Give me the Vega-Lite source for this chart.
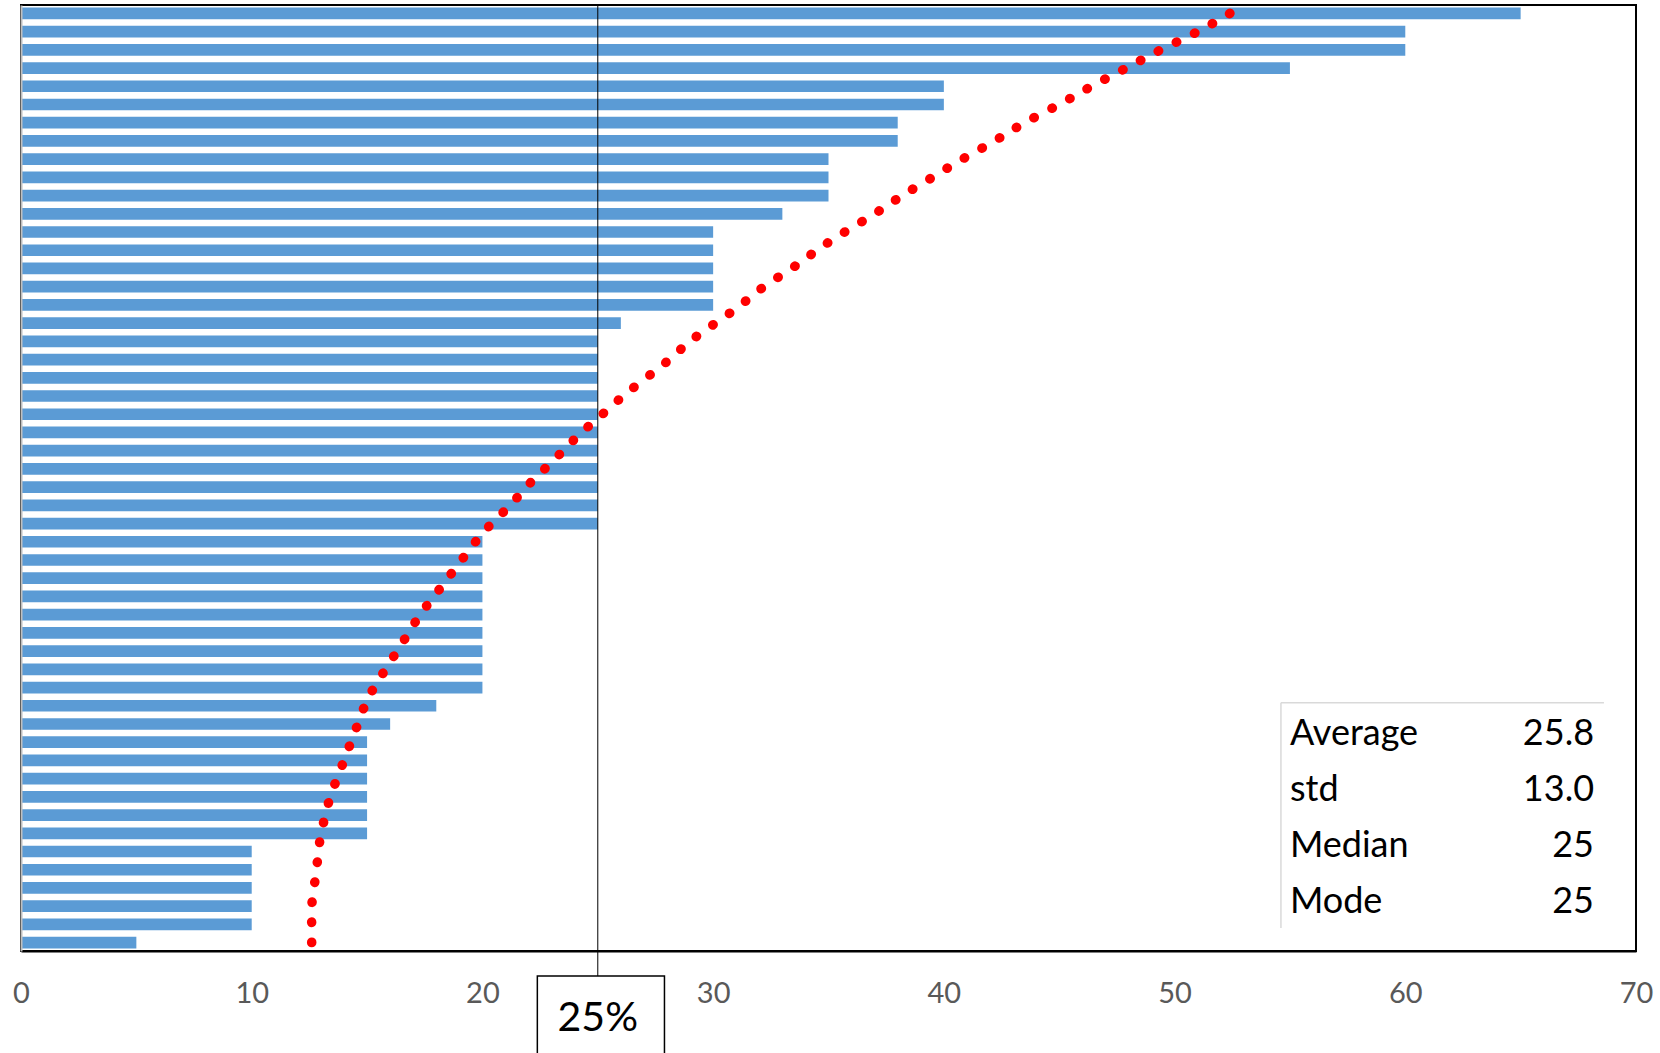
{
  "$schema": "https://vega.github.io/schema/vega-lite/v6.json",
  "width": 1615,
  "height": 946,
  "autosize": "none",
  "padding": {"left": 21, "top": 5, "right": 24, "bottom": 102},
  "background": "white",
  "config": {
    "view": {"stroke": "black", "strokeWidth": 2},
    "font": "Lato"
  },
  "datasets": {
    "bars": [
      {"id": 1, "value": 65, "trend": 52.4},
      {"id": 2, "value": 60, "trend": 51.0},
      {"id": 3, "value": 60, "trend": 49.4},
      {"id": 4, "value": 55, "trend": 47.9},
      {"id": 5, "value": 40, "trend": 46.4},
      {"id": 6, "value": 40, "trend": 45.0},
      {"id": 7, "value": 38, "trend": 43.5},
      {"id": 8, "value": 38, "trend": 42.2},
      {"id": 9, "value": 35, "trend": 40.8},
      {"id": 10, "value": 35, "trend": 39.5},
      {"id": 11, "value": 35, "trend": 38.2},
      {"id": 12, "value": 33, "trend": 37.0},
      {"id": 13, "value": 30, "trend": 35.7},
      {"id": 14, "value": 30, "trend": 34.5},
      {"id": 15, "value": 30, "trend": 33.4},
      {"id": 16, "value": 30, "trend": 32.2},
      {"id": 17, "value": 30, "trend": 31.2},
      {"id": 18, "value": 26, "trend": 30.1},
      {"id": 19, "value": 25, "trend": 29.0},
      {"id": 20, "value": 25, "trend": 28.1},
      {"id": 21, "value": 25, "trend": 27.1},
      {"id": 22, "value": 25, "trend": 26.1},
      {"id": 23, "value": 25, "trend": 25.2},
      {"id": 24, "value": 25, "trend": 24.3},
      {"id": 25, "value": 25, "trend": 23.5},
      {"id": 26, "value": 25, "trend": 22.7},
      {"id": 27, "value": 25, "trend": 21.9},
      {"id": 28, "value": 25, "trend": 21.2},
      {"id": 29, "value": 25, "trend": 20.4},
      {"id": 30, "value": 20, "trend": 19.7},
      {"id": 31, "value": 20, "trend": 19.1},
      {"id": 32, "value": 20, "trend": 18.5},
      {"id": 33, "value": 20, "trend": 17.9},
      {"id": 34, "value": 20, "trend": 17.3},
      {"id": 35, "value": 20, "trend": 16.8},
      {"id": 36, "value": 20, "trend": 16.3},
      {"id": 37, "value": 20, "trend": 15.8},
      {"id": 38, "value": 20, "trend": 15.3},
      {"id": 39, "value": 18, "trend": 14.9},
      {"id": 40, "value": 16, "trend": 14.6},
      {"id": 41, "value": 15, "trend": 14.3},
      {"id": 42, "value": 15, "trend": 14.0},
      {"id": 43, "value": 15, "trend": 13.7},
      {"id": 44, "value": 15, "trend": 13.4},
      {"id": 45, "value": 15, "trend": 13.2},
      {"id": 46, "value": 15, "trend": 13.0},
      {"id": 47, "value": 10, "trend": 12.9},
      {"id": 48, "value": 10, "trend": 12.8},
      {"id": 49, "value": 10, "trend": 12.7},
      {"id": 50, "value": 10, "trend": 12.6},
      {"id": 51, "value": 10, "trend": 12.6},
      {"id": 52, "value": 5, "trend": 12.6}
    ],
    "stats": [
      {"row": 1, "stat": "Average", "value": "25.8"},
      {"row": 2, "stat": "std", "value": "13.0"},
      {"row": 3, "stat": "Median", "value": "25"},
      {"row": 4, "stat": "Mode", "value": "25"}
    ]
  },
  "layer": [
    {
      "data": {"name": "bars"},
      "encoding": {
        "y": {
          "field": "id",
          "type": "ordinal",
          "sort": "ascending",
          "scale": {"paddingInner": 0.358, "paddingOuter": 0.139},
          "axis": {
            "labels": false,
            "ticks": false,
            "grid": false,
            "title": null,
            "domainColor": "#BFBFBF",
            "domainWidth": 2,
            "zindex": 1
          }
        }
      },
      "layer": [
        {
          "mark": {"type": "bar", "color": "#5B9BD5"},
          "encoding": {
            "x": {
              "field": "value",
              "type": "quantitative",
              "scale": {"domain": [0, 70], "nice": false, "zero": true},
              "axis": {
                "values": [0, 10, 20, 30, 40, 50, 60, 70],
                "ticks": false,
                "grid": false,
                "title": null,
                "domainColor": "black",
                "domainWidth": 2,
                "labelFont": "Lato",
                "labelFontSize": 29,
                "labelColor": "#595959",
                "labelPadding": 28,
                "labelFlush": false,
                "zindex": 1
              }
            }
          }
        },
        {
          "mark": {
            "type": "line",
            "color": "#FF0000",
            "strokeWidth": 9.5,
            "strokeDash": [0.5, 19.64],
            "strokeCap": "round",
            "interpolate": "natural"
          },
          "encoding": {
            "x": {"field": "trend", "type": "quantitative"}
          }
        }
      ]
    },
    {
      "layer": [
        {
          "data": {"values": [{}]},
          "mark": {"type": "rule", "color": "black", "strokeWidth": 1},
          "encoding": {
            "x": {"datum": 25, "type": "quantitative"},
            "y": {
              "datum": -12.19,
              "type": "quantitative",
              "scale": {"domain": [-12.19, 4.673], "reverse": true, "nice": false, "zero": false},
              "axis": null
            },
            "y2": {"datum": 5.118}
          }
        },
        {
          "data": {"values": [{}]},
          "mark": {"type": "rect", "fill": "white", "stroke": "black", "strokeWidth": 1.5},
          "encoding": {
            "x": {"datum": 22.38, "type": "quantitative"},
            "x2": {"datum": 27.89},
            "y": {"datum": 5.118, "type": "quantitative"},
            "y2": {"datum": 7.0}
          }
        },
        {
          "data": {"values": [{}]},
          "mark": {"type": "text", "text": "25%", "font": "Lato", "fontSize": 41, "color": "black", "align": "center", "baseline": "alphabetic"},
          "encoding": {
            "x": {"datum": 25, "type": "quantitative"},
            "y": {"datum": 6.093, "type": "quantitative"}
          }
        },
        {
          "data": {"values": [{}]},
          "mark": {"type": "rule", "color": "#D9D9D9", "strokeWidth": 1.5},
          "encoding": {
            "x": {"datum": 54.61, "type": "quantitative"},
            "x2": {"datum": 68.61},
            "y": {"datum": 0.247, "type": "quantitative"}
          }
        },
        {
          "data": {"values": [{}]},
          "mark": {"type": "rule", "color": "#D9D9D9", "strokeWidth": 1.5},
          "encoding": {
            "x": {"datum": 54.61, "type": "quantitative"},
            "y": {"datum": 0.247, "type": "quantitative"},
            "y2": {"datum": 4.263}
          }
        },
        {
          "data": {"name": "stats"},
          "mark": {"type": "text", "font": "Lato", "fontSize": 36, "color": "black", "align": "left", "baseline": "alphabetic"},
          "encoding": {
            "x": {"datum": 55.0, "type": "quantitative"},
            "y": {"field": "row", "type": "quantitative"},
            "text": {"field": "stat"}
          }
        },
        {
          "data": {"name": "stats"},
          "mark": {"type": "text", "font": "Lato", "fontSize": 36, "color": "black", "align": "right", "baseline": "alphabetic"},
          "encoding": {
            "x": {"datum": 68.18, "type": "quantitative"},
            "y": {"field": "row", "type": "quantitative"},
            "text": {"field": "value"}
          }
        }
      ]
    }
  ],
  "resolve": {"scale": {"y": "independent"}}
}
